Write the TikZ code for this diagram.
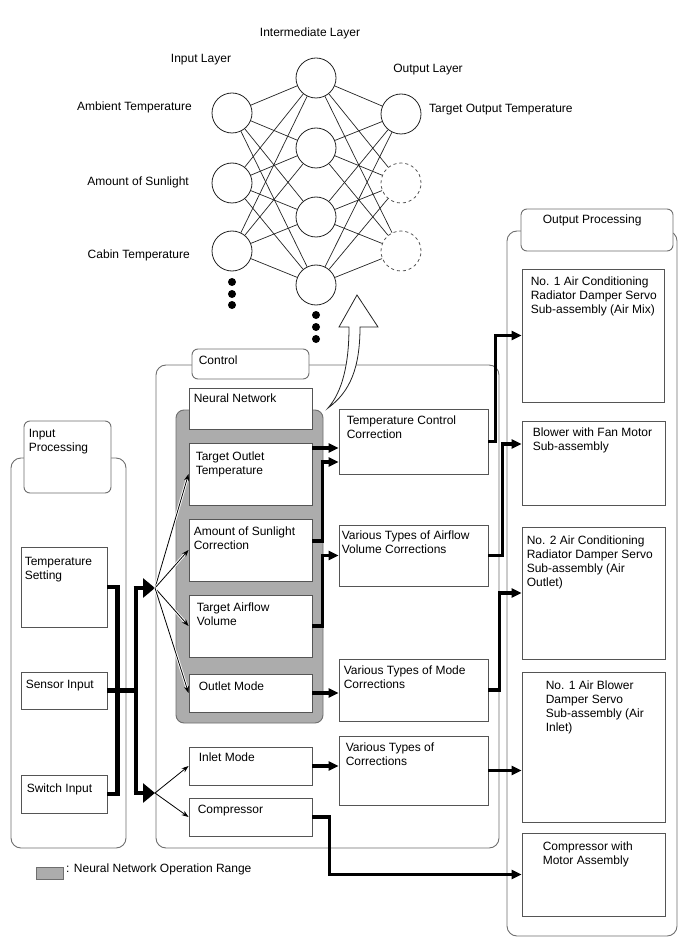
\documentclass[tikz,border=0pt]{standalone}
\usepackage{fontspec}
\setmainfont{Liberation Sans}
\usetikzlibrary{arrows.meta,positioning,calc,fit}
\definecolor{ink}{RGB}{35,35,35}
\definecolor{edge}{RGB}{85,85,85}
\definecolor{frame}{RGB}{110,110,110}
\definecolor{nnzone}{RGB}{172,172,172}
\newcommand{\lab}{\fontsize{12}{14}\selectfont}
\tikzset{
  neuron/.style={circle,draw=ink,line width=0.8pt,minimum size=40pt,inner sep=0pt,fill=white},
  ghost/.style={neuron,dashed,draw=edge},
  syn/.style={draw=ink,line width=0.7pt},
  blk/.style={draw=edge,line width=0.9pt,fill=white,inner sep=0pt},
  panel/.style={draw=frame,line width=0.9pt,rounded corners=10pt,fill=white,inner sep=0pt},
  tab/.style={draw=frame,line width=0.9pt,rounded corners=6pt,fill=white,inner sep=0pt},
  zone/.style={draw=frame,line width=0.9pt,rounded corners=8pt,fill=nnzone,inner sep=0pt},
  txt/.style={font=\lab,inner sep=0pt,align=left,anchor=north west},
  thk/.style={-{Triangle[length=10pt,width=9pt]},line width=3.6pt},
  bus/.style={line width=4.6pt},
  bigarr/.style={-{Triangle[length=12pt,width=19pt]},line width=4.6pt},
  fan/.style={-{Stealth[length=7pt,width=5pt]},line width=0.8pt},
  halo/.style={draw=white,line width=2.6pt,shorten >=5pt},
  dot/.style={circle,fill=black,minimum size=8pt,inner sep=0pt},
}
\begin{document}
\begin{tikzpicture}[x=1pt,y=-1pt]
\useasboundingbox (0,0) rectangle (688,949);
% neural network
\node[txt,anchor=center] (lyr-h) at (310,33) {Intermediate Layer};
\node[txt,anchor=center] (lyr-i) at (201,60) {Input Layer};
\node[txt,anchor=center] (lyr-o) at (428,70) {Output Layer};
\foreach \i/\y in {1/113,2/183,3/251}
  \node[neuron] (in\i) at (232,\y) {};
\foreach \j/\y in {1/78,2/148,3/217,4/285}
  \node[neuron] (hd\j) at (316,\y) {};
\node[neuron] (out1) at (401,114) {};
\node[ghost] (out2) at (401,183) {};
\node[ghost] (out3) at (401,251) {};
\foreach \i in {1,2,3}
  \foreach \j in {1,...,4}
    \draw[syn] (in\i) -- (hd\j);
\foreach \j in {1,...,4}
  \foreach \k in {1,2,3}
    \draw[syn] (hd\j) -- (out\k);
\foreach \k/\y in {1/282,2/294,3/305}
  \node[dot] (di\k) at (232,\y) {};
\foreach \k/\y in {1/315,2/327,3/339}
  \node[dot] (dh\k) at (316,\y) {};
\node[txt,anchor=east] (nm-amb) at (192,107) {Ambient Temperature};
\node[txt,anchor=east] (nm-sun) at (189,182) {Amount of Sunlight};
\node[txt,anchor=east] (nm-cab) at (190,255) {Cabin Temperature};
\node[txt,anchor=west] (nm-tgt) at (429,110) {Target Output Temperature};
% containers
\node[panel,fit={(11,458) (126,848)}] (inp) {};
\node[tab,fit={(24,421) (111,493)}] (inp-tab) {};
\node[txt] (inp-t) at ($(inp-tab.north west)+(5,8)$) {Input\\Processing};
\node[panel,fit={(156,365) (499,848)}] (ctl) {};
\node[tab,fit={(192,349) (309,379)}] (ctl-tab) {};
\node[txt] (ctl-t) at ($(ctl-tab.north west)+(7,7)$) {Control};
\node[panel,fit={(507,231) (677,936)}] (outp) {};
\node[tab,fit={(521,209) (673,251)}] (outp-tab) {};
\node[txt] (outp-t) at ($(outp-tab.north west)+(22,6)$) {Output Processing};
\node[zone,fit={(176,410) (323,723)}] (range) {};
% boxes
\foreach \n/\xa/\ya/\xb/\yb/\dx/\dy/\t in {
  nn/189/388/312/429/5/6/{Neural Network},
  tot/189/443/312/505/7/9/{Target Outlet\\Temperature},
  asc/189/519/312/581/5/8/{Amount of Sunlight\\Correction},
  tav/189/595/312/657/8/8/{Target Airflow\\Volume},
  om/189/674/312/712/10/8/{Outlet Mode},
  im/189/747/312/785/10/6/{Inlet Mode},
  cmp/189/798/312/836/9/7/{Compressor},
  ts/21/547/107/627/4/10/{Temperature\\Setting},
  si/21/672/107/709/5/8/{Sensor Input},
  sw/21/775/107/813/6/9/{Switch Input},
  tcc/339/409/488/474/8/7/{Temperature Control\\Correction},
  vtav/339/525/488/586/3/6/{Various Types of Airflow\\Volume Corrections},
  vtm/339/659/488/721/5/7/{Various Types of Mode\\Corrections},
  vtc/339/736/488/805/7/7/{Various Types of\\Corrections},
  ac1/522/269/664/402/9/8/{No. 1 Air Conditioning\\Radiator Damper Servo\\Sub-assembly (Air Mix)},
  blw/522/421/665/505/11/7/{Blower with Fan Motor\\Sub-assembly},
  ac2/522/527/665/659/5/9/{No. 2 Air Conditioning\\Radiator Damper Servo\\Sub-assembly (Air\\Outlet)},
  ab1/522/672/665/822/24/9/{No. 1 Air Blower\\Damper Servo\\Sub-assembly (Air\\Inlet)},
  cma/522/833/665/916/21/9/{Compressor with\\Motor Assembly}}{
  \node[blk,fit={(\xa,\ya) (\xb,\yb)}] (\n) {};
  \node[txt] (\n-t) at ($(\n.north west)+(\dx,\dy)$) {\t};
}
% hollow arrow up to the network
\draw[draw=ink,fill=white,line width=0.8pt] (328,408) .. controls (342,392) and (349,365) .. (349,327)
  -- (339,327) -- (357,295) -- (378,327) -- (360,327) .. controls (360,368) and (350,392) .. (328,408) -- cycle;
% input bus
\coordinate (b1) at (136,588);
\coordinate (b2) at (136,793);
\coordinate (f1) at (155,588);
\coordinate (f2) at (155,793);
\draw[bus] (ts.east) -- ++(10,0) |- (sw.east);
\draw[bus] (si.east) -- (si.east -| b1);
\draw[bus] (b1) -- (b2);
\draw[bigarr] ([xshift=-2.3pt]b1) -- (f1);
\draw[bigarr] ([xshift=-2.3pt]b2) -- (f2);
\foreach \t in {tot,asc,tav,om}{
  \draw[halo] (f1) -- (\t.west);
  \draw[fan] (f1) -- (\t.west);
}
\foreach \t in {im,cmp}
  \draw[fan] (f2) -- (\t.west);
% control to corrections
\draw[thk] ($(tot.east)+(0,-26)$) -- ($(tcc.west)+(0,6.5)$);
\draw[thk] ($(asc.east)+(0,-9)$) -- ++(10,0) |- ($(tcc.west)+(0,20.5)$);
\draw[thk] (tav.east) -- ++(10,0) |- (vtav.west);
\draw[thk] (om.east) -- (om.east -| vtm.west);
\draw[thk] (im.east) -- (im.east -| vtc.west);
\draw[thk] (cmp.east) -- ++(17,0) |- (cma.west);
% corrections to actuators
\draw[thk] (tcc.east) -- ++(7,0) |- (ac1.west);
\draw[thk] (vtav.east) -- ++(14,0) |- ($(blw.west)+(0,-19)$);
\draw[thk] (vtm.east) -- ++(11,0) |- (ac2.west);
\draw[thk] (vtc.east) -- (vtc.east -| ab1.west);
% legend
\node[fill=nnzone,draw=frame,line width=0.8pt,inner sep=0pt,fit={(36,867) (63,879)}] (key) {};
\node[txt] (key-t) at (66,864) {: Neural Network Operation Range};
\end{tikzpicture}
\end{document}
